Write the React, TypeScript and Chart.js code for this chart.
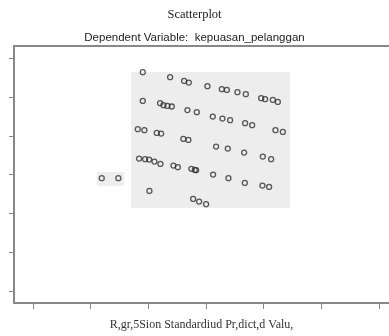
import { useEffect, useRef } from 'react';
import { Chart, registerables } from 'chart.js';

Chart.register(...registerables);

const TITLE = 'Scatterplot';
const SUBTITLE = 'Dependent Variable:  kepuasan_pelanggan';
const X_TITLE = 'R,gr,5Sion Standardiud Pr,dict,d Valu,';

const X_TICKS = [-3, -2, -1, 0, 1, 2, 3];
const Y_TICKS = [-3, -2, -1, 0, 1, 2, 3];
const X_MIN = -3.33;
const X_MAX = 3.17;
const Y_MIN = -3.3;
const Y_MAX = 3.32;

// standardized predicted values
const PRED_X = [
  -1.098, -0.624, -0.381, -0.3, 0.023, 0.272, 0.359, 0.543, 0.688, 0.954, 1.023, 1.157, 1.243,
  -1.098, -0.798, -0.74, -0.671, -0.595, -0.324, -0.161, 0.116, 0.283, 0.416, 0.676, 0.798, 1.202, 1.33,
  -1.184, -1.07, -0.855, -0.78, -0.394, -0.307, 0.173, 0.376, 0.659, 0.983, 1.127,
  -1.162, -1.058, -0.988, -0.896, -0.792, -0.567, -0.491, -0.255, -0.196, -0.173, 0.121, 0.387, 0.671, 0.976, 1.092,
  -0.983, -0.225, -0.121, 0.0,
  -1.809, -1.521,
];

// residuals
const RESID_Y = [
  2.645, 2.516, 2.421, 2.377, 2.284, 2.207, 2.189, 2.13, 2.078, 1.975, 1.95, 1.932, 1.88,
  1.906, 1.847, 1.795, 1.777, 1.762, 1.67, 1.615, 1.501, 1.45, 1.409, 1.331, 1.28, 1.151, 1.107,
  1.177, 1.151, 1.082, 1.064, 0.927, 0.901, 0.729, 0.677, 0.574, 0.471, 0.404,
  0.42, 0.404, 0.394, 0.343, 0.283, 0.24, 0.198, 0.155, 0.129, 0.121, 0.008, -0.085, -0.206, -0.276, -0.309,
  -0.412, -0.618, -0.688, -0.755,
  -0.085, -0.085,
];

// light grey scanned panels (in axis units)
const PANEL_X0 = [-1.3, -1.89];
const PANEL_X1 = [1.457, -1.422];
const PANEL_Y0 = [-0.85, -0.283];
const PANEL_Y1 = [2.653, 0.077];
const PANEL_COLOR = '#ededed';

const AXIS_COLOR = '#888888';

const panelPlugin = {
  id: 'scanPanels',
  beforeDatasetsDraw(chart: any) {
    const { ctx, chartArea } = chart;
    const xs = chart.scales.x;
    const ys = chart.scales.y;
    ctx.save();
    ctx.fillStyle = PANEL_COLOR;
    for (let i = 0; i < PANEL_X0.length; i++) {
      const l = xs.getPixelForValue(PANEL_X0[i]);
      const r = xs.getPixelForValue(PANEL_X1[i]);
      const t = ys.getPixelForValue(PANEL_Y1[i]);
      const b = ys.getPixelForValue(PANEL_Y0[i]);
      ctx.fillRect(l, t, r - l, b - t);
    }
    // top frame line of the plot box
    ctx.strokeStyle = AXIS_COLOR;
    ctx.lineWidth = 2;
    ctx.beginPath();
    ctx.moveTo(chartArea.left - 1, chartArea.top);
    ctx.lineTo(chartArea.right, chartArea.top);
    ctx.stroke();
    ctx.restore();
  },
};

export default function App() {
  const ref = useRef<HTMLCanvasElement | null>(null);

  useEffect(() => {
    document.body.style.margin = '0';
    const canvas = ref.current;
    if (!canvas) return;
    const chart = new Chart(canvas, {
      type: 'scatter',
      data: {
        datasets: [
          {
            data: PRED_X.map((x, i) => ({ x, y: RESID_Y[i] })),
            pointStyle: 'circle',
            pointRadius: 2.5,
            pointBorderWidth: 1.3,
            pointBackgroundColor: 'rgba(0,0,0,0)',
            pointBorderColor: 'rgba(45,45,45,0.78)',
            borderColor: 'rgba(45,45,45,0.78)',
            backgroundColor: 'rgba(0,0,0,0)',
          },
        ],
      },
      plugins: [panelPlugin],
      options: {
        responsive: false,
        animation: false,
        devicePixelRatio: 1,
        layout: { padding: { top: 0, left: 0, right: 0, bottom: 0 }, autoPadding: false },
        plugins: {
          legend: { display: false },
          tooltip: { enabled: false },
          title: {
            display: true,
            text: TITLE,
            color: '#222222',
            font: { family: 'Liberation Serif', size: 12.5, weight: 'normal' },
            padding: { top: 7.7, bottom: 0 },
          },
          subtitle: {
            display: true,
            text: SUBTITLE,
            color: '#222222',
            font: { family: 'Liberation Sans', size: 11.5, weight: 'normal' },
            padding: { top: 8.4, bottom: 1.1 },
          },
        },
        scales: {
          x: {
            type: 'linear',
            position: 'bottom',
            min: X_MIN,
            max: X_MAX,
            afterBuildTicks: (axis: any) => {
              axis.ticks = X_TICKS.map((v) => ({ value: v }));
            },
            ticks: { display: false },
            grid: {
              display: true,
              drawOnChartArea: false,
              drawTicks: true,
              tickLength: 6,
              color: AXIS_COLOR,
              lineWidth: 1,
            },
            border: { display: true, color: AXIS_COLOR, width: 2 },
            title: {
              display: true,
              text: X_TITLE,
              color: '#333333',
              font: { family: 'Liberation Serif', size: 12, weight: 'normal' },
              padding: { top: 8.8, bottom: 3.8 },
            },
          },
          y: {
            type: 'linear',
            position: 'left',
            min: Y_MIN,
            max: Y_MAX,
            afterBuildTicks: (axis: any) => {
              axis.ticks = Y_TICKS.map((v) => ({ value: v }));
            },
            afterFit: (axis: any) => {
              axis.width = 14;
            },
            ticks: { display: false },
            grid: {
              display: true,
              drawOnChartArea: false,
              drawTicks: true,
              tickLength: 5,
              color: AXIS_COLOR,
              lineWidth: 1,
            },
            border: { display: true, color: AXIS_COLOR, width: 2 },
          },
        },
      } as any,
    });
    return () => chart.destroy();
  }, []);

  return (
    <div style={{ width: 389, height: 336 }}>
      <canvas ref={ref} width={389} height={336} style={{ display: 'block' }} />
    </div>
  );
}
